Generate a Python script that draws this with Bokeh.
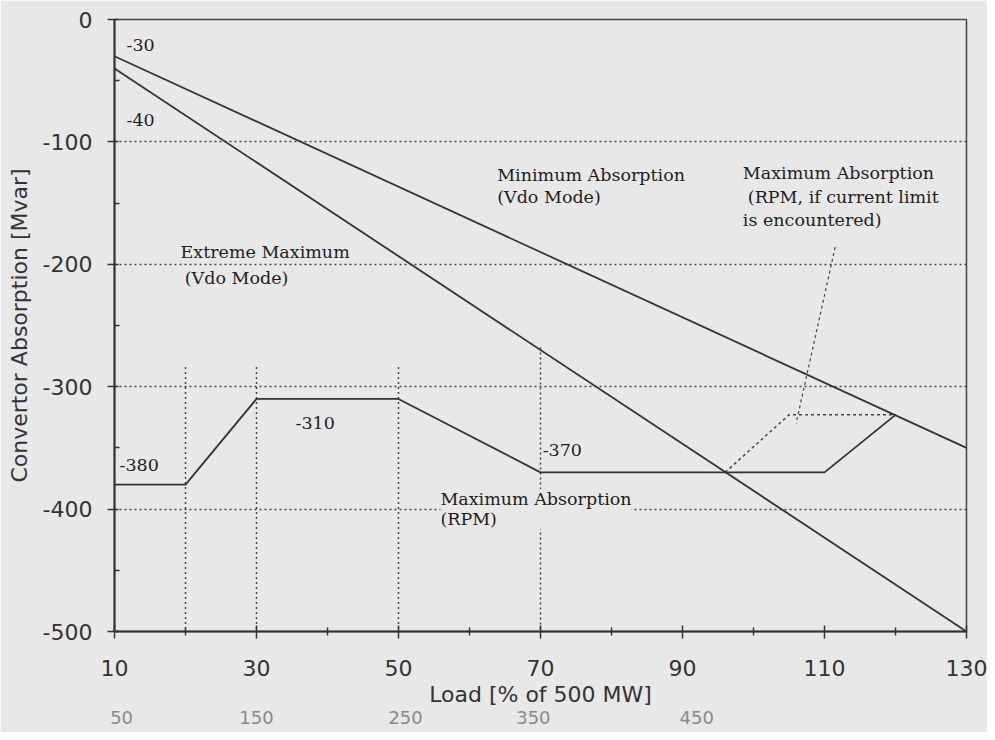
from bokeh.plotting import figure
from bokeh.models import FixedTicker, Label, Range1d, LinearAxis
from bokeh.embed import file_html
from bokeh.resources import INLINE

# ---- data ----
load_ends = [10, 130]
min_absorption_vdo = [-30, -350]
extreme_max_vdo = [-40, -500]

rpm_load = [10, 20, 30, 50, 70, 110, 120]
rpm_max_absorption = [-380, -380, -310, -310, -370, -370, -323]

rpm_limit_load = [96, 105, 120]
rpm_limit_absorption = [-370, -323, -323]

pointer_load = [111.5, 106]
pointer_absorption = [-186, -330]

vline_load = [20, 30, 50, 70]
vline_top = [-284, -284, -284, -268]
vline_bottom = [-500, -500, -500, -500]

x_ticks = [10, 30, 50, 70, 90, 110, 130]
x_minor = [20, 40, 60, 80, 100, 120]
y_ticks = [0, -100, -200, -300, -400, -500]
y_minor = [-50, -150, -250, -350, -450]
grid_levels = [-100, -200, -300, -400]

# pencil notes under the axis: MW equivalents of the load ticks
hand_pos = [11, 30, 51, 69, 92]
hand_labels = ["50", "150", "250", "350", "450"]

BG = "#e8e8e8"
INK = "#333333"

p = figure(width=987, height=732, x_range=Range1d(10, 130), y_range=Range1d(-500, 0),
           output_backend="svg", toolbar_location=None,
           min_border_left=114, min_border_right=21, min_border_top=19, min_border_bottom=101,
           background_fill_color=BG, border_fill_color=BG)

p.outline_line_color = "#444444"
p.outline_line_width = 1.5
p.xgrid.visible = False
p.ygrid.ticker = FixedTicker(ticks=grid_levels)
p.ygrid.grid_line_color = "#444444"
p.ygrid.grid_line_dash = "2 3"
p.ygrid.grid_line_width = 1.5

for ax in (p.xaxis[0], p.yaxis[0]):
    ax.axis_line_color = INK
    ax.axis_line_width = 2
    ax.major_tick_line_color = INK
    ax.major_tick_line_width = 1.5
    ax.minor_tick_line_color = INK
    ax.minor_tick_line_width = 1.5
    ax.major_label_text_font = "DejaVu Sans"
    ax.major_label_text_font_size = "22px"
    ax.major_label_text_color = INK
    ax.axis_label_text_font = "DejaVu Sans"
    ax.axis_label_text_font_size = "22px"
    ax.axis_label_text_font_style = "normal"
    ax.axis_label_text_color = INK

p.xaxis.ticker = FixedTicker(ticks=x_ticks, minor_ticks=x_minor)
p.xaxis.major_tick_in = 6
p.xaxis.major_tick_out = 7
p.xaxis.minor_tick_in = 4
p.xaxis.minor_tick_out = 4
p.xaxis.major_label_standoff = 21
p.xaxis.axis_label = "Load [% of 500 MW]"
p.xaxis.axis_label_standoff = 3

p.yaxis.ticker = FixedTicker(ticks=y_ticks, minor_ticks=y_minor)
p.yaxis.major_label_overrides = {v: str(v) for v in y_ticks}
p.yaxis.major_tick_in = 4
p.yaxis.major_tick_out = 7
p.yaxis.minor_tick_in = 5
p.yaxis.minor_tick_out = 0
p.yaxis.major_label_standoff = 15
p.yaxis.axis_label = "Convertor Absorption [Mvar]"
p.yaxis.axis_label_standoff = 8

# second (pencil) axis under the main one
hand_axis = LinearAxis(ticker=FixedTicker(ticks=hand_pos, minor_ticks=[]),
                       major_label_overrides=dict(zip(hand_pos, hand_labels)),
                       axis_line_color=None, major_tick_line_color=None, minor_tick_line_color=None,
                       major_tick_in=0, major_tick_out=0, minor_tick_in=0, minor_tick_out=0,
                       major_label_standoff=1,
                       major_label_text_font="DejaVu Sans", major_label_text_font_size="18px",
                       major_label_text_color="#8a8a8a")
p.add_layout(hand_axis, "below")

# vertical dotted reference lines
p.segment(x0=vline_load, y0=vline_top, x1=vline_load, y1=vline_bottom,
          line_color="#444444", line_dash="2 3", line_width=1.5)

# current-limit dotted path and pointer
p.line(rpm_limit_load, rpm_limit_absorption, line_color="#444444", line_dash="3 3", line_width=1.5)
p.line(pointer_load, pointer_absorption, line_color="#444444", line_dash="3 3", line_width=1.2)

# solid characteristic lines
p.line(load_ends, min_absorption_vdo, line_color=INK, line_width=1.8)
p.line(load_ends, extreme_max_vdo, line_color=INK, line_width=1.8)
p.line(rpm_load, rpm_max_absorption, line_color=INK, line_width=1.8)

def lab(text, x, y, bg=False, size="17.5px", lh=1.2):
    kw = dict(x=x, y=y, text=text, text_font="DejaVu Serif", text_font_size=size,
              text_color="#1e1e1e", text_align="left", text_baseline="middle",
              text_line_height=lh)
    if bg:
        kw.update(background_fill_color=BG, background_fill_alpha=1.0)
    p.add_layout(Label(**kw))

lab("-30", 11.7, -21)
lab("-40", 11.7, -82)
lab("Extreme Maximum", 19.3, -190, bg=True)
lab("(Vdo Mode)", 19.9, -211, bg=True)
lab("Minimum Absorption", 63.9, -127)
lab("(Vdo Mode)", 63.9, -145)
lab("Maximum Absorption", 98.5, -125)
lab("(RPM, if current limit", 99.2, -145)
lab("is encountered)", 98.5, -164)
lab("-310", 35.5, -330)
lab("-380", 10.7, -364)
lab("-370", 70.3, -352)
lab("Maximum Absorption\n(RPM)", 55.9, -400, bg=True, lh=1.0)

open("out.html", "w").write(file_html(p, INLINE))
